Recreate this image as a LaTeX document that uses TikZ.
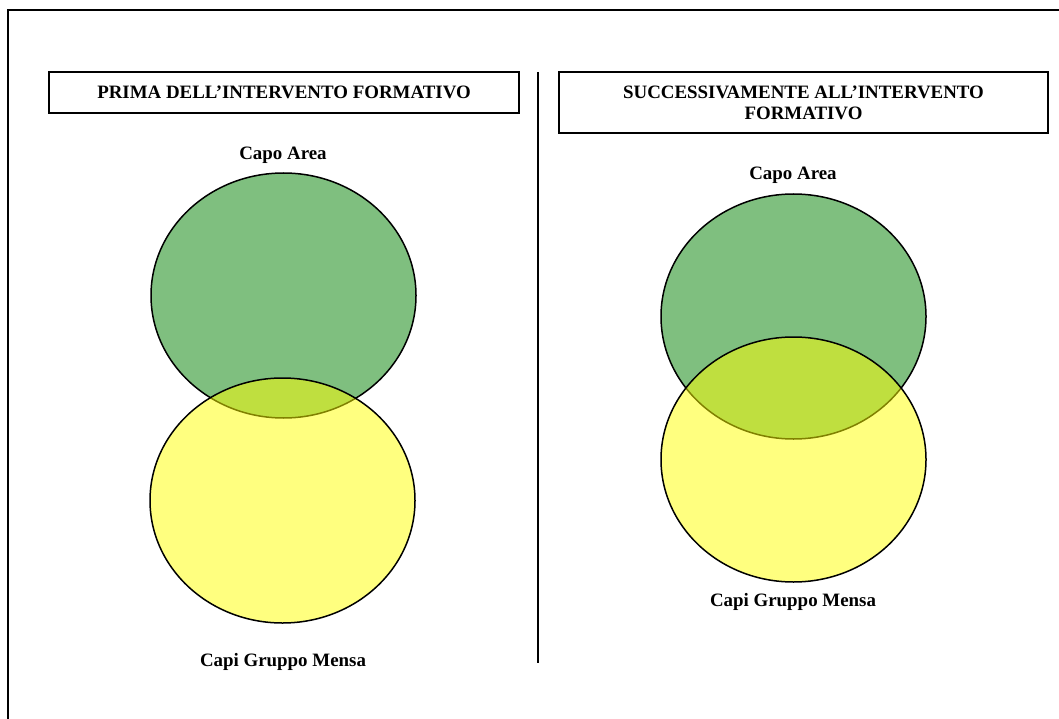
\documentclass[tikz,border=0pt]{standalone}
\usepackage{fontspec}
\setmainfont{Liberation Serif}
\usetikzlibrary{shapes.geometric}
\definecolor{setgreen}{RGB}{0,128,0}
\definecolor{setyellow}{RGB}{255,255,0}
\begin{document}
\begin{tikzpicture}[x=1pt,y=-1pt,
  lbl/.style={font=\fontsize{18.9}{21}\selectfont\bfseries, inner sep=0pt},
  titlebox/.style={draw, line width=2pt, lbl, align=center},
  blob/.style={ellipse, draw, line width=1.5pt, fill opacity=0.5,
               minimum width=265pt, minimum height=245pt, inner sep=0pt},
  greenblob/.style={blob, fill=setgreen},
  yellowblob/.style={blob, fill=setyellow}]
  % page
  \fill[white] (0,0) rectangle (1059,719);
  \useasboundingbox (0,0) rectangle (1059,719);
  % frame (open to the right and bottom)
  \coordinate (frameBL) at (7.5,719);
  \coordinate (frameTL) at (7.5,10.5);
  \coordinate (frameTR) at (1059,10.5);
  \draw[line width=2pt] (frameBL) -- (frameTL) -- (frameTR);

  % column headers
  \node[titlebox, minimum width=470pt, minimum height=41pt] (headL) at (284,92.5)
    {PRIMA DELL’INTERVENTO FORMATIVO};
  \node[titlebox, minimum width=489pt, minimum height=61pt] (headR) at (803.5,102.5)
    {SUCCESSIVAMENTE ALL’INTERVENTO\\FORMATIVO};

  % divider
  \coordinate (divTop) at (538,72);
  \coordinate (divBot) at (538,663);
  \draw[line width=1.6pt] (divTop) -- (divBot);

  % before: sets barely touching
  \node[greenblob]  (areaL)  at (283.5,295.5) {};
  \node[yellowblob] (mensaL) at (282.5,500.5) {};
  \node[lbl] (areaLabelL)  at (283,155) {Capo Area};
  \node[lbl] (mensaLabelL) at (283,662) {Capi Gruppo Mensa};

  % after: sets strongly overlapping
  \node[greenblob]  (areaR)  at (793.5,316.5) {};
  \node[yellowblob] (mensaR) at (793.5,459.5) {};
  \node[lbl] (areaLabelR)  at (793,175) {Capo Area};
  \node[lbl] (mensaLabelR) at (793,602) {Capi Gruppo Mensa};
\end{tikzpicture}
\end{document}
